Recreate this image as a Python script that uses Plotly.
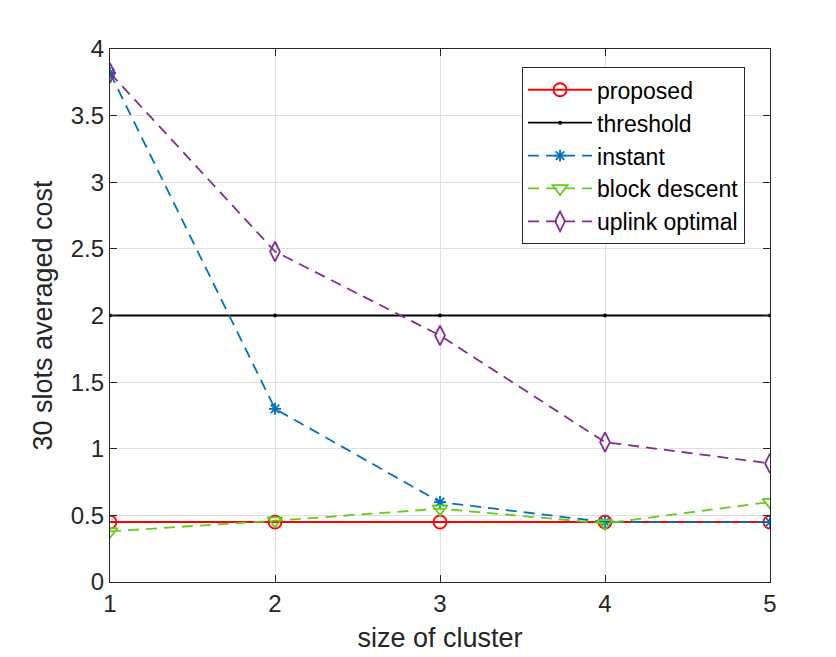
import plotly.graph_objs as go

cluster = [1, 2, 3, 4, 5]
proposed = [0.45, 0.45, 0.45, 0.45, 0.45]
threshold = [2, 2, 2, 2, 2]
instant = [3.82, 1.30, 0.60, 0.45, 0.45]
block_descent = [0.38, 0.46, 0.55, 0.44, 0.60]
uplink_optimal = [3.82, 2.48, 1.85, 1.05, 0.89]

fig = go.Figure()

fig.add_trace(go.Scatter(x=cluster, y=proposed, name='proposed', mode='lines+markers',
                         line=dict(color='#FF0000', width=2),
                         marker=dict(symbol='circle-open', size=13, color='#FF0000', line=dict(width=1.8))))
fig.add_trace(go.Scatter(x=cluster, y=threshold, name='threshold', mode='lines+markers',
                         line=dict(color='#000000', width=1.8),
                         marker=dict(symbol='circle', size=4, color='#000000')))
fig.add_trace(go.Scatter(x=cluster, y=instant, name='instant', mode='lines+markers',
                         line=dict(color='#0072BD', width=1.8, dash='11px,7px'),
                         marker=dict(symbol='asterisk-open', size=10, color='#0072BD', line=dict(width=1.8, color='#0072BD'))))
fig.add_trace(go.Scatter(x=cluster, y=block_descent, name='block descent', mode='lines+markers',
                         line=dict(color='#66CC1A', width=1.8, dash='11px,7px'),
                         marker=dict(symbol='triangle-down-open', size=13, color='#66CC1A', line=dict(width=1.8))))
fig.add_trace(go.Scatter(x=cluster, y=uplink_optimal, name='uplink optimal', mode='lines+markers',
                         line=dict(color='#7E2F8E', width=1.8, dash='11px,7px'),
                         marker=dict(symbol='diamond-tall-open', size=14, color='#7E2F8E', line=dict(width=1.8))))

axis_style = dict(showline=True, linecolor='#262626', linewidth=1.2, mirror='ticks',
                  ticks='inside', ticklen=7, tickcolor='#262626',
                  showgrid=True, gridcolor='#E0E0E0', gridwidth=1, zeroline=False,
                  tickfont=dict(size=24, color='#262626'))

fig.update_layout(
  width=836, height=657,
  margin=dict(l=102, r=74, t=41, b=83),
  paper_bgcolor='#FFFFFF', plot_bgcolor='#FFFFFF',
  font=dict(family='Liberation Sans, Arial', color='#262626'),
  xaxis=dict(range=[1, 5], tickvals=[1, 2, 3, 4, 5],
             title=dict(text='size of cluster', font=dict(size=27), standoff=12), **axis_style),
  yaxis=dict(range=[0, 4], tickvals=[0, 0.5, 1, 1.5, 2, 2.5, 3, 3.5, 4], ticktext=['0', '0.5', '1', '1.5', '2', '2.5', '3', '3.5', '4'],
             title=dict(text='30 slots averaged cost', font=dict(size=27), standoff=10), **axis_style),
  legend=dict(x=0.624, y=0.966, xanchor='left', yanchor='top',
              bgcolor='#FFFFFF', bordercolor='#262626', borderwidth=1.2,
              font=dict(size=23, color='#000000'), tracegroupgap=0, itemwidth=64),
  showlegend=True,
)

fig.write_html("out.html")
